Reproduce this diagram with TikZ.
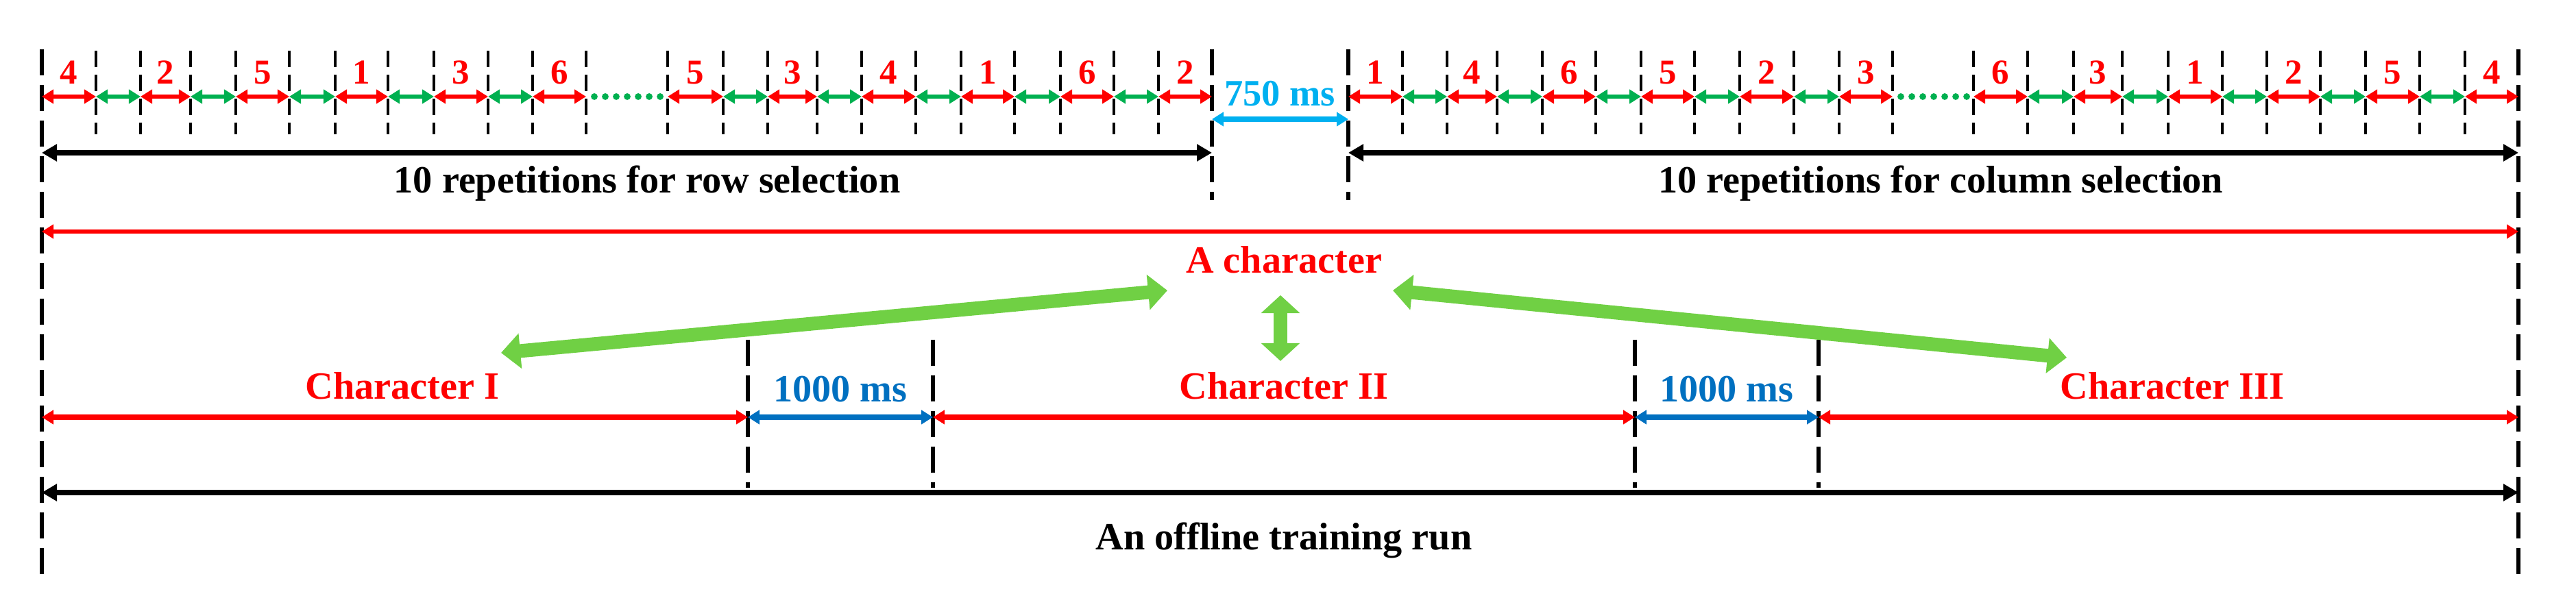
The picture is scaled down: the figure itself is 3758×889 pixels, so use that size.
\documentclass[tikz,border=0pt]{standalone}
\usepackage{fontspec}
\setmainfont{Liberation Serif}
\usetikzlibrary{arrows.meta,calc}
\definecolor{cred}{HTML}{FF0000}
\definecolor{cgreen}{HTML}{00B050}
\definecolor{cbig}{HTML}{70D044}
\definecolor{ccyan}{HTML}{00B0F0}
\definecolor{cblue}{HTML}{0070C0}
\begin{document}
\begin{tikzpicture}[x=0.01cm,y=-0.01cm,
  seg/.style={line width=1.6pt,{Triangle[length=0.17cm,width=0.2cm]}-{Triangle[length=0.17cm,width=0.2cm]}},
  rseg/.style={seg,cred},
  gseg/.style={seg,cgreen},
  bigarr/.style={line width=0.2cm,cbig},
  blk/.style={line width=2.2pt,black,{Triangle[length=0.22cm,width=0.24cm]}-{Triangle[length=0.22cm,width=0.24cm]}},
  tick/.style={line width=1.1pt,black,dash pattern=on 0.24cm off 0.11cm},
  major/.style={line width=1.7pt,black,dash pattern=on 0.38cm off 0.14cm},
  dig/.style={font=\fontsize{14.5}{15}\selectfont\bfseries,text=cred,inner sep=0pt},
  lab/.style={font=\fontsize{16}{18}\selectfont\bfseries,inner sep=0pt}]
\useasboundingbox (0,0) rectangle (3758,889);
% major dashed lines
\draw[major] (61,72) -- (61,845);
\draw[major] (3674,72) -- (3674,845);
\draw[major] (1768,72) -- (1768,292);
\draw[major] (1967,72) -- (1967,292);
\draw[major] (1091,496) -- (1091,712);
\draw[major] (1361,496) -- (1361,712);
\draw[major] (2385,496) -- (2385,712);
\draw[major] (2653,496) -- (2653,712);
% stimulus sequences
\foreach \G/\xs/\ds in {
  A/{61,140,205,278,344,422,489,566,633,712,777,855}/{4,2,5,1,3,6},
  B/{974,1055,1120,1192,1257,1336,1402,1480,1547,1625,1690,1768}/{5,3,4,1,6,2},
  C/{1967,2046,2111,2184,2250,2328,2394,2472,2538,2617,2683,2761}/{1,4,6,5,2,3},
  D/{2879,2958,3025,3096,3163,3242,3307,3385,3451,3530,3596,3674}/{6,3,1,2,5,4}}{
  \foreach \x [count=\i] in \xs {
    \coordinate (\G\i) at (\x,141);
    \ifnum\x=61 \else\ifnum\x=1768 \else\ifnum\x=1967 \else\ifnum\x=3674 \else
      \draw[tick] (\x,74) -- (\x,196);
    \fi\fi\fi\fi
  }
  \foreach \k in {1,...,11}{
    \pgfmathtruncatemacro\n{\k+1}
    \pgfmathtruncatemacro\od{mod(\k,2)}
    \ifnum\od=1 \draw[rseg] (\G\k) -- (\G\n); \else \draw[gseg] (\G\k) -- (\G\n); \fi
  }
  \foreach \d [count=\j] in \ds {
    \pgfmathtruncatemacro\p{2*\j-1}
    \pgfmathtruncatemacro\q{2*\j}
    \node[dig] (dig\G\j) at ($(\G\p)!0.5!(\G\q)+(0,-35)$) {\d};
  }
}
\draw[cgreen,line width=2.8pt,line cap=round,dash pattern=on 0pt off 0.16cm] (A12) ++(12,0) coordinate (dA) -- ($(B1)+(-8,0)$) coordinate (dB);
\draw[cgreen,line width=2.8pt,line cap=round,dash pattern=on 0pt off 0.16cm] (C12) ++(12,0) coordinate (dC) -- ($(D1)+(-8,0)$) coordinate (dD);
% 750 ms
\coordinate (g1) at (1768,174); \coordinate (g2) at (1967,174);
\draw[seg,ccyan,line width=2pt] (g1) -- (g2);
\node[font=\fontsize{15.5}{16}\selectfont\bfseries,text=ccyan,inner sep=0pt] (t750) at (1867,137) {750 ms};
% repetitions
\coordinate (r1) at (61,223); \coordinate (r2) at (1768,223);
\coordinate (r3) at (1967,223); \coordinate (r4) at (3674,223);
\draw[blk] (r1) -- (r2);
\draw[blk] (r3) -- (r4);
\node[lab] (rowsel) at (944,268) {10 repetitions for row selection};
\node[lab] (colsel) at (2831,268) {10 repetitions for column selection};
% a character
\coordinate (c1) at (61,338); \coordinate (c2) at (3674,338);
\draw[seg,cred,line width=1.8pt] (c1) -- (c2);
\node[lab,text=cred] (achar) at (1873,379) {A character};
% characters
\node[lab,text=cred] (ch1) at (587,563) {Character I};
\node[lab,text=cred] (ch2) at (1873,563) {Character II};
\node[lab,text=cred] (ch3) at (3169,563) {Character III};
\node[lab,text=cblue] (ms1) at (1226,568) {1000 ms};
\node[lab,text=cblue] (ms2) at (2519,568) {1000 ms};
\coordinate (gl1) at (1703,424); \coordinate (gl2) at (731,515);
\coordinate (gr1) at (2032,424); \coordinate (gr2) at (3015,522);
\coordinate (gv1) at (1868,431); \coordinate (gv2) at (1868,527);
\draw[bigarr,{Triangle[length=0.28cm,width=0.5cm]}-{Triangle[length=0.28cm,width=0.5cm]}] (gl2) -- (gl1);
\draw[bigarr,{Triangle[length=0.28cm,width=0.5cm]}-{Triangle[length=0.28cm,width=0.5cm]}] (gr1) -- (gr2);
\draw[bigarr,{Triangle[length=0.26cm,width=0.55cm]}-{Triangle[length=0.26cm,width=0.55cm]}] (gv1) -- (gv2);
% timeline
\coordinate (p1) at (61,609); \coordinate (p2) at (1091,609);
\coordinate (p3) at (1361,609); \coordinate (p4) at (2385,609);
\coordinate (p5) at (2653,609); \coordinate (p6) at (3674,609);
\draw[seg,cred,line width=2pt] (p1) -- (p2);
\draw[seg,cblue,line width=2pt] (p2) -- (p3);
\draw[seg,cred,line width=2pt] (p3) -- (p4);
\draw[seg,cblue,line width=2pt] (p4) -- (p5);
\draw[seg,cred,line width=2pt] (p5) -- (p6);
% offline run
\coordinate (o1) at (61,719); \coordinate (o2) at (3674,719);
\draw[blk] (o1) -- (o2);
\node[lab] (offl) at (1873,789) {An offline training run};
\end{tikzpicture}
\end{document}
